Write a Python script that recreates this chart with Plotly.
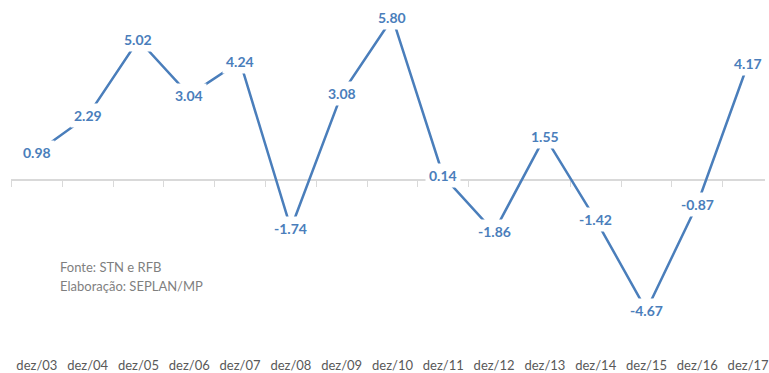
import plotly.graph_objects as go

categories = ["dez/03", "dez/04", "dez/05", "dez/06", "dez/07", "dez/08", "dez/09", "dez/10",
              "dez/11", "dez/12", "dez/13", "dez/14", "dez/15", "dez/16", "dez/17"]
values = [0.98, 2.29, 5.02, 3.04, 4.24, -1.74, 3.08, 5.80, 0.14, -1.86, 1.55, -1.42, -4.67, -0.87, 4.17]
source_lines = ["Fonte: STN e RFB", "Elaboração: SEPLAN/MP"]

W, H = 769, 373
mb = 16
plot_h = H - mb
zero_px = 180.4
ppu = 28.0
y_top = zero_px / ppu
y_bot = (zero_px - plot_h) / ppu
x_left_px = 11.5
px_per_cat = 51.07
dom_left = x_left_px / W
x_max = -0.5 + (W - x_left_px) / px_per_cat

blue = "#4A7EBB"
fig = go.Figure()
fig.add_trace(go.Scatter(x=categories, y=values, mode="lines",
                         line=dict(color=blue, width=2.5), hoverinfo="skip", showlegend=False))
fig.add_trace(go.Scatter(x=categories, y=values, mode="lines", xaxis="x2",
                         line=dict(width=0, color="rgba(0,0,0,0)"), hoverinfo="skip", showlegend=False))

for c, v in zip(categories, values):
    fig.add_annotation(x=c, y=v, text=f"<b>{v:.2f}</b>", showarrow=False,
                       font=dict(family="Lato, Noto Sans", size=14, color=blue),
                       bgcolor="white", borderpad=3, xref="x", yref="y")

for i, t in enumerate(source_lines):
    fig.add_annotation(x=58 / W, y=1 - (268 + 19 * i) / plot_h, xref="paper", yref="paper",
                       text=t, showarrow=False, xanchor="left", yanchor="middle",
                       font=dict(family="Lato, Noto Sans", size=13, color="#7F7F7F"))

zero_frac = (plot_h - zero_px) / plot_h
fig.update_layout(
    width=W, height=H, margin=dict(l=0, r=0, t=0, b=mb),
    paper_bgcolor="white", plot_bgcolor="white",
    xaxis=dict(type="category", domain=[dom_left, 1], range=[-0.5, x_max],
               showgrid=False, showline=False, ticks="", zeroline=False,
               tickfont=dict(family="Lato, Noto Sans", size=13, color="#595959")),
    xaxis2=dict(type="category", overlaying="x", anchor="free", position=zero_frac,
                range=[-0.5, x_max], showgrid=False, showline=True, linecolor="#D9D9D9",
                linewidth=1.5, ticks="outside", ticklen=6, tickcolor="#D9D9D9", tickwidth=1,
                tickson="boundaries", showticklabels=False, side="bottom", layer="below traces"),
    yaxis=dict(range=[y_bot, y_top], visible=False, showgrid=False, zeroline=False),
)
fig.write_html("out.html")
